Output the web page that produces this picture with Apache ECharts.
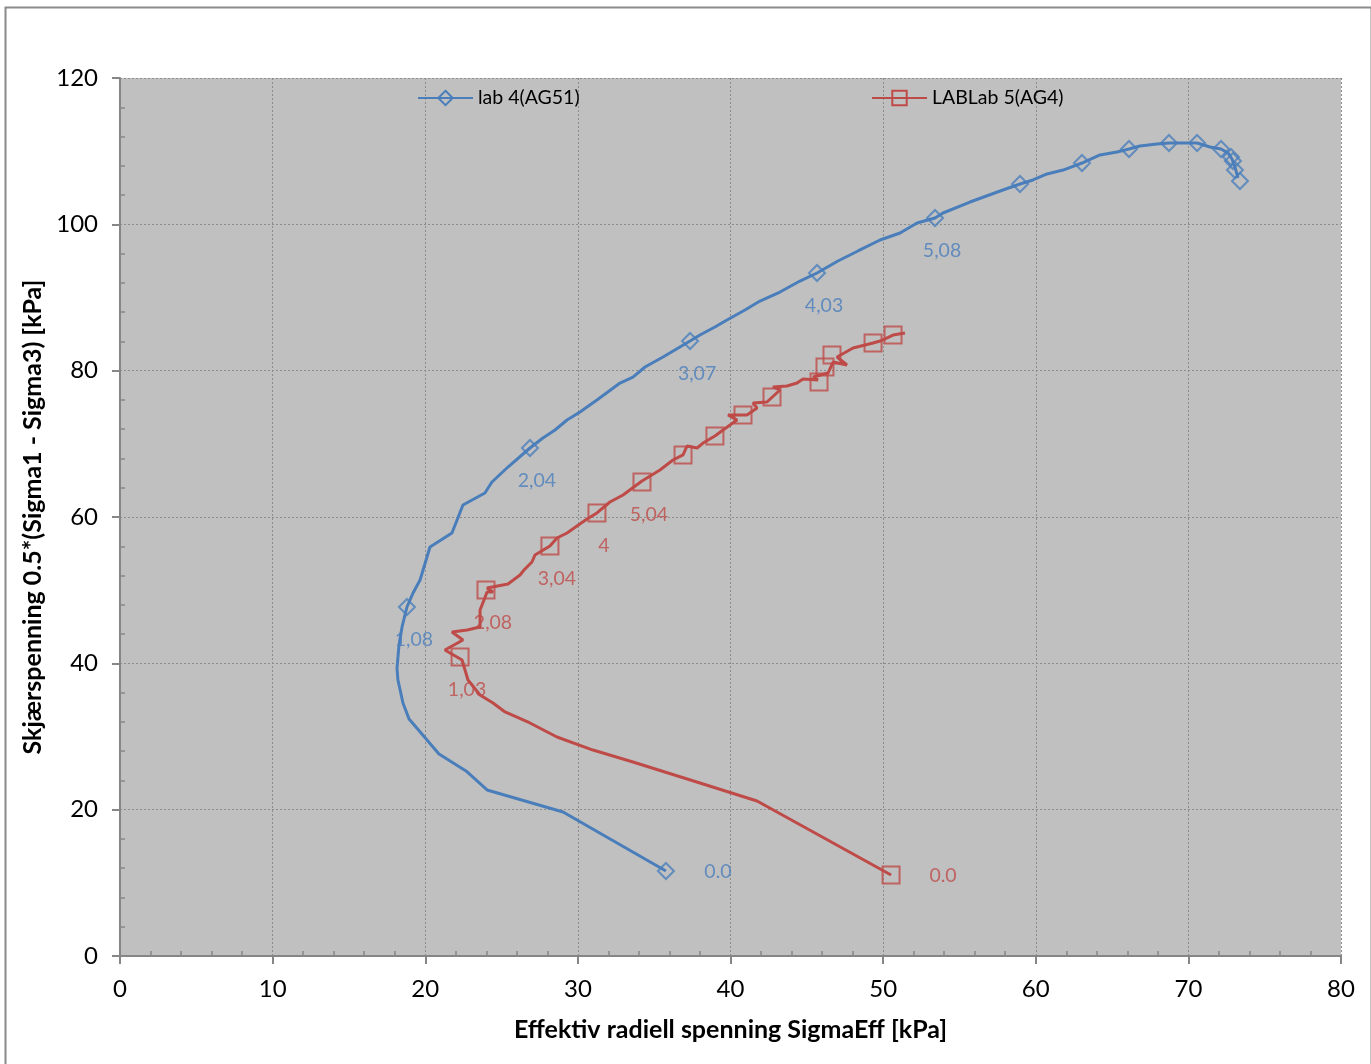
<!DOCTYPE html>
<html>
<head>
<meta charset="utf-8">
<script src="https://cdn.jsdelivr.net/npm/echarts@6/dist/echarts.min.js"></script>
<style>
html,body{margin:0;padding:0;background:#fff;}
#chart{width:1371px;height:1064px;}
</style>
</head>
<body>
<div id="chart"></div>
<script>
// ---- Data ----
const blueName = 'lab 4(AG51)';
const redName = 'LABLab 5(AG4)';

const blueLine = [[35.77,11.62],[29.03,19.68],[24.05,22.69],[22.67,25.29],[20.90,27.61],[18.94,32.39],[18.54,34.58],[18.21,37.72],[18.15,39.36],[18.28,42.51],[18.48,44.97],[18.80,47.70],[19.20,49.61],[19.66,51.39],[20.31,55.90],[21.75,57.81],[22.47,61.64],[23.91,63.28],[24.37,64.78],[25.42,66.83],[26.86,69.43],[27.71,70.80],[28.50,71.89],[29.29,73.26],[30.14,74.35],[31.25,75.99],[32.76,78.31],[33.61,79.13],[34.40,80.50],[35.58,81.87],[37.35,84.05],[38.00,84.87],[38.98,85.97],[39.77,86.92],[40.95,88.29],[41.93,89.52],[43.24,90.75],[44.55,92.25],[45.67,93.35],[47.04,94.99],[48.35,96.36],[49.80,97.86],[51.11,98.81],[52.22,100.18],[53.40,100.87],[53.92,101.55],[55.69,103.05],[57.85,104.69],[58.97,105.51],[59.82,106.06],[60.74,106.88],[61.79,107.42],[63.03,108.38],[64.21,109.48],[65.32,109.89],[66.11,110.30],[66.83,110.71],[67.94,110.98],[68.73,111.12],[69.65,111.12],[70.57,111.12],[71.42,110.57],[72.14,110.30],[72.60,109.75],[72.86,108.93],[73.05,107.84],[73.25,106.33]];

const blueMarkers = [[35.77,11.62],[18.80,47.70],[26.86,69.43],[37.35,84.05],[45.67,93.35],[53.40,100.87],[58.97,105.51],[63.03,108.38],[66.11,110.30],[68.73,111.12],[70.57,111.12],[72.14,110.30],[72.79,109.20],[72.92,108.66],[73.05,107.42],[73.38,105.92]];

const blueLabels = [[35.77,11.62,'0.0'],[18.80,47.70,'1,08'],[26.86,69.43,'2,04'],[37.35,84.05,'3,07'],[45.67,93.35,'4,03'],[53.40,100.87,'5,08']];

const redLine = [[50.52,11.07],[41.74,21.18],[38.00,23.65],[33.61,26.52],[30.99,28.15],[28.63,29.93],[26.86,31.85],[25.23,33.35],[24.44,34.58],[23.59,35.67],[22.80,37.72],[22.41,40.46],[21.29,41.82],[22.47,43.19],[21.75,44.28],[22.74,44.56],[23.59,44.97],[23.59,47.29],[23.85,48.66],[24.05,49.75],[24.44,49.75],[24.05,50.30],[25.42,50.84],[26.21,52.07],[26.47,52.76],[26.99,53.85],[27.19,54.81],[28.17,56.04],[28.63,57.13],[29.29,57.81],[29.94,58.77],[30.60,59.73],[31.25,60.55],[32.10,62.05],[32.96,63.01],[34.20,64.92],[35.38,66.42],[36.23,67.79],[36.89,68.48],[37.15,69.70],[37.81,69.43],[38.20,70.11],[38.98,71.07],[39.51,71.89],[40.43,73.26],[39.84,73.94],[41.08,73.94],[41.74,74.90],[41.47,75.58],[42.39,75.72],[43.24,77.36],[42.78,77.77],[43.70,77.90],[44.36,78.31],[44.75,78.86],[45.73,78.72],[45.41,79.13],[46.39,79.68],[46.72,81.18],[47.63,80.77],[46.98,81.87],[48.03,83.10],[49.34,83.78],[49.80,84.05],[50.65,84.87],[51.43,85.15]];

const redMarkers = [[50.52,11.07],[22.28,40.87],[23.98,50.02],[28.17,56.04],[31.25,60.55],[34.20,64.78],[36.89,68.48],[38.98,71.07],[40.82,73.94],[42.72,76.40],[45.80,78.45],[46.19,80.50],[46.65,82.14],[49.34,83.78],[50.65,84.87]];

const redLabels = [[50.52,11.07,'0.0'],[22.28,40.87,'1,03'],[23.98,50.02,'2,08'],[28.17,56.04,'3,04'],[31.25,60.55,'4'],[34.20,64.78,'5,04']];

const xTicks = {min: 0, max: 80, interval: 10};
const yTicks = {min: 0, max: 120, interval: 20};

// ---- Styles ----
const BLUE = '#4a7ebb';
const RED = '#be4b48';
const FONT = 'Lato';
const AXIS = '#868686';

function lineSeries(name, data, color, symbol) {
  return {
    name: name, type: 'line', data: data,
    symbol: symbol, showSymbol: false, symbolSize: 14,
    lineStyle: {color: color, width: 3},
    itemStyle: {color: 'rgba(0,0,0,0)', borderColor: color, borderWidth: 2},
    z: 2, silent: true
  };
}
function markerSeries(name, data, color, symbol, size) {
  return {
    name: name, type: 'scatter', data: data,
    symbol: symbol, symbolSize: size,
    itemStyle: {color: 'rgba(0,0,0,0)', borderColor: color, borderWidth: 2},
    z: 3, silent: true
  };
}
function labelSeries(data, color) {
  return {
    type: 'scatter', name: 'labels-' + color,
    data: data.map(function (d, i) {
      return {
        value: [d[0], d[1]],
        label: {
          show: true, formatter: d[2], position: 'inside',
          offset: i === 0 ? [52, 1] : [7, 33],
          color: color, fontFamily: FONT, fontSize: 19.5
        }
      };
    }),
    symbolSize: 0, itemStyle: {color: 'rgba(0,0,0,0)'},
    z: 4, silent: true
  };
}

const chart = echarts.init(document.getElementById('chart'), null, {renderer: 'canvas'});
chart.setOption({
  animation: false,
  backgroundColor: '#ffffff',
  textStyle: {fontFamily: FONT},
  graphic: [{
    type: 'rect', left: 3, top: 5, silent: true, z: -1,
    shape: {width: 1366, height: 1080},
    style: {fill: 'none', stroke: '#8a8a8a', lineWidth: 2}
  }],
  grid: {left: 120, top: 78, right: 30, bottom: 108, show: true, backgroundColor: '#c0c0c0', borderWidth: 0},
  legend: [{
    data: [blueName], left: 417, top: 88, padding: 0,
    itemWidth: 55, itemHeight: 18, itemGap: 4,
    textStyle: {fontFamily: FONT, fontSize: 19.5, color: '#000'}
  }, {
    data: [redName], left: 871, top: 88, padding: 0,
    itemWidth: 55, itemHeight: 18, itemGap: 4,
    textStyle: {fontFamily: FONT, fontSize: 19.5, color: '#000'}
  }],
  xAxis: {
    type: 'value', min: xTicks.min, max: xTicks.max, interval: xTicks.interval,
    name: 'Effektiv radiell spenning SigmaEff [kPa]',
    nameLocation: 'middle', nameGap: 61,
    nameTextStyle: {fontFamily: FONT, fontWeight: 'bold', fontSize: 25, color: '#000'},
    axisLine: {onZero: false, lineStyle: {color: AXIS, width: 2}},
    axisTick: {show: true, length: 8, lineStyle: {color: AXIS, width: 2}},
    minorTick: {show: true, splitNumber: 5, length: -5, lineStyle: {color: AXIS, width: 1.5}},
    axisLabel: {margin: 21, fontFamily: FONT, fontSize: 24, color: '#000'},
    splitLine: {show: true, lineStyle: {color: '#8c8c8c', type: [2, 2], width: 1}}
  },
  yAxis: {
    type: 'value', min: yTicks.min, max: yTicks.max, interval: yTicks.interval,
    name: 'Skjærspenning 0.5*(Sigma1 - Sigma3) [kPa]',
    nameLocation: 'middle', nameGap: 74,
    nameTextStyle: {fontFamily: FONT, fontWeight: 'bold', fontSize: 25, color: '#000'},
    axisLine: {onZero: false, lineStyle: {color: AXIS, width: 2}},
    axisTick: {show: true, length: 8, lineStyle: {color: AXIS, width: 2}},
    minorTick: {show: true, splitNumber: 5, length: -5, lineStyle: {color: AXIS, width: 1.5}},
    axisLabel: {margin: 22, fontFamily: FONT, fontSize: 24, color: '#000'},
    splitLine: {show: true, lineStyle: {color: '#8c8c8c', type: [2, 2], width: 1}}
  },
  series: [
    lineSeries(blueName, blueLine, BLUE, 'diamond'),
    lineSeries(redName, redLine, RED, 'rect'),
    markerSeries(blueName, blueMarkers, BLUE, 'diamond', 16),
    markerSeries(redName, redMarkers, RED, 'rect', 17),
    labelSeries(blueLabels, BLUE),
    labelSeries(redLabels, RED)
  ]
});
</script>
</body>
</html>
